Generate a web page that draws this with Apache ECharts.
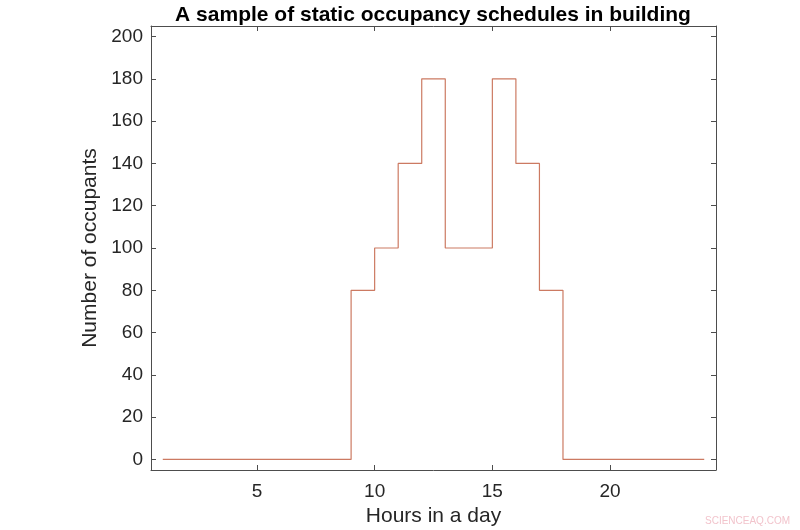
<!DOCTYPE html>
<html>
<head>
<meta charset="UTF-8">
<script src="https://cdn.jsdelivr.net/npm/echarts@6/dist/echarts.min.js"></script>
<style>
  html, body { margin: 0; padding: 0; background: #fff; }
  #chart { width: 800px; height: 530px; }
</style>
</head>
<body>
<div id="chart"></div>
<script>
// hours and occupants (stairs)
var hours = [1, 2, 3, 4, 5, 6, 7, 8, 9, 10, 11, 12, 13, 14, 15, 16, 17, 18, 19, 20, 21, 22, 23, 24];
var occupants = [0, 0, 0, 0, 0, 0, 0, 0, 80, 100, 140, 180, 100, 100, 180, 140, 80, 0, 0, 0, 0, 0, 0, 0];
var xTicks = [5, 10, 15, 20];
var yTicks = [0, 20, 40, 60, 80, 100, 120, 140, 160, 180, 200];

var font = 'Liberation Sans, Arial, sans-serif';
var axisColor = '#262626';

var points = hours.map(function (h, i) { return [h, occupants[i]]; });

function frameAxis(extra) {
  return Object.assign({
    type: 'value',
    axisLine: { show: true, onZero: false, lineStyle: { color: '#4d4d4d', width: 1 } },
    axisTick: { show: true, inside: true, length: 5, lineStyle: { color: '#4d4d4d' } },
    axisLabel: { show: false },
    splitLine: { show: false }
  }, extra);
}

var chart = echarts.init(document.getElementById('chart'));
chart.setOption({
  animation: false,
  title: {
    text: 'A sample of static occupancy schedules in building',
    left: 428, top: 0, textAlign: 'center',
    textStyle: { fontFamily: font, fontWeight: 'bold', fontSize: 21, color: '#000' }
  },
  grid: { left: 151, right: 84, top: 26, bottom: 60, outerBoundsMode: 'none', containLabel: false },
  xAxis: [
    frameAxis({
      min: 0.5, max: 24.5, position: 'bottom',
      name: 'Hours in a day', nameLocation: 'middle', nameGap: 36,
      nameTextStyle: { fontFamily: font, fontSize: 21, color: axisColor },
      axisTick: { show: true, inside: true, length: 5, customValues: xTicks, lineStyle: { color: '#4d4d4d' } },
      axisLabel: { show: true, customValues: xTicks, margin: 12, fontFamily: font, fontSize: 19, color: axisColor }
    }),
    frameAxis({
      min: 0.5, max: 24.5, position: 'top',
      axisTick: { show: true, inside: true, length: 5, customValues: xTicks, lineStyle: { color: '#4d4d4d' } }
    })
  ],
  yAxis: [
    frameAxis({
      min: -5, max: 205, position: 'left',
      name: 'Number of occupants', nameLocation: 'middle', nameGap: 48,
      nameTextStyle: { fontFamily: font, fontSize: 21, color: axisColor },
      axisTick: { show: true, inside: true, length: 5, customValues: yTicks, lineStyle: { color: '#4d4d4d' } },
      axisLabel: { show: true, customValues: yTicks, margin: 8, fontFamily: font, fontSize: 19, color: axisColor }
    }),
    frameAxis({
      min: -5, max: 205, position: 'right',
      axisTick: { show: true, inside: true, length: 5, customValues: yTicks, lineStyle: { color: '#4d4d4d' } }
    })
  ],
  graphic: [{
    type: 'text', right: 10, bottom: 4,
    style: { text: 'SCIENCEAQ.COM', fontFamily: font, fontSize: 10, fill: '#f2c4cc' }
  }],
  series: [{
    type: 'line',
    step: 'end',
    data: points,
    showSymbol: false,
    lineStyle: { color: '#cc7a62', width: 1.2 }
  }]
});
</script>
</body>
</html>
